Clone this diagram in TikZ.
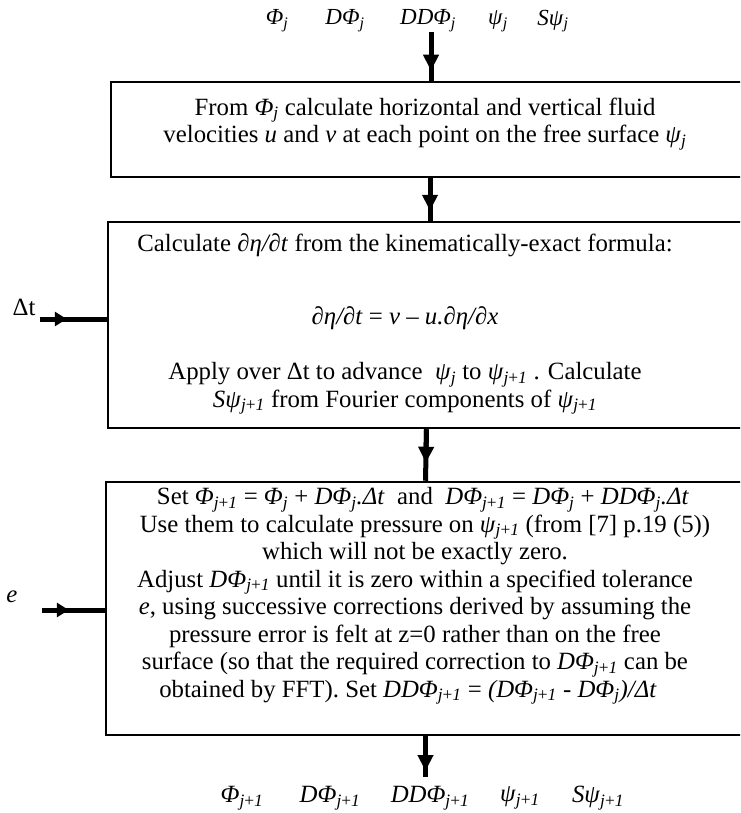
\documentclass[tikz,border=0pt]{standalone}
\usepackage{fontspec}
\setmainfont{Liberation Serif}
\usetikzlibrary{arrows.meta}
\newcommand\PHI{\textit{Φ}}
\newcommand\PSI{\textit{ψ}}
\newcommand\jj{\textsubscript{\textit{j}}}
\newcommand\jp{\textsubscript{\textit{j}+\textit{1}}}
\newcommand\fmid{\fontsize{23}{27.5}\selectfont}
\newcommand\fbig{\fontsize{24.8}{27.5}\selectfont}
\begin{document}
\begin{tikzpicture}[x=1pt,y=-1pt,
  font=\fbig,
  box/.style={draw, line width=2.5pt, inner sep=0pt},
  txt/.style={align=center, inner sep=0pt},
  lbl/.style={inner sep=0pt},
  shaft/.style={line width=5pt},
  head/.style={line width=5pt, -{Triangle[width=15pt,length=16pt]}},
  hhead/.style={line width=5pt, -{Triangle[width=14pt,length=12pt]}}]
\useasboundingbox (0,0) rectangle (740,813);
\clip (0,0) rectangle (740,813);
% boxes
\node[box, minimum width=634pt, minimum height=95pt] (b1) at (428,129.5) {};
\node[box, minimum width=637pt, minimum height=206pt] (b2) at (426.5,325) {};
\node[box, minimum width=639pt, minimum height=253pt] (b3) at (425.5,608.5) {};
% box texts
\node[txt] (t1) at (425,124) {From \PHI\jj\ calculate horizontal and vertical fluid\\
velocities \textit{u} and \textit{v} at each point on the free surface \PSI\jj};
\node[txt] (t2) at (405,324) {Calculate \textit{∂η/∂t} from the kinematically-exact formula:\\[46pt]
\textit{∂η/∂t} = \textit{v} – \textit{u.∂η/∂x}\\[27.5pt]
Apply over Δt to advance\ \ \PSI\jj\ to \PSI\jp\ . Calculate\\
\textit{S}\PSI\jp\ from Fourier components of \PSI\jp};
\node[txt] (t3) at (415,596) {\hspace*{16pt}Set \PHI\jp\ = \PHI\jj\ + \textit{D}\PHI\jj\textit{.Δt}\ \ and\ \ \textit{D}\PHI\jp\ = \textit{D}\PHI\jj\ + \textit{DD}\PHI\jj\textit{.Δt}\\
\hspace*{20pt}Use them to calculate pressure on \PSI\jp\ (from [7] p.19 (5))\\
which will not be exactly zero.\hspace*{36pt}\\
Adjust \textit{D}\PHI\jp\ until it is zero within a specified tolerance\\
\textit{e}, using successive corrections derived by assuming the\\
pressure error is felt at z=0 rather than on the free\hspace*{10pt}\\
surface (so that the required correction to \textit{D}\PHI\jp\ can be\\
obtained by FFT). Set \textit{DD}\PHI\jp\ = \textit{(D}\PHI\jp\ \textit{- D}\PHI\jj\textit{)/Δt}\hspace*{14pt}};
% top labels
\node[lbl, font=\fmid] (l1) at (277,21) {\PHI\jj};
\node[lbl, font=\fmid] (l2) at (345,21) {\textit{D}\PHI\jj};
\node[lbl, font=\fmid] (l3) at (428,21) {\textit{DD}\PHI\jj};
\node[lbl, font=\fmid] (l4) at (498,21) {\PSI\jj};
\node[lbl, font=\fmid] (l5) at (553,21) {\textit{S}\PSI\jj};
% bottom labels
\node[lbl] (m1) at (242,798) {\PHI\jp};
\node[lbl] (m2) at (330,798) {\textit{D}\PHI\jp};
\node[lbl] (m3) at (430,798) {\textit{DD}\PHI\jp};
\node[lbl] (m4) at (520,798) {\PSI\jp};
\node[lbl] (m5) at (598,798) {\textit{S}\PSI\jp};
% side labels
\node[lbl] (dt) at (24,307) {Δt};
\node[lbl] (e) at (12,597) {\textit{e}};
% connector points
\coordinate (a0) at (431,32);
\coordinate (a1) at (430,177);
\coordinate (a3) at (425.5,777);
\coordinate (dtin) at (40,319);
\coordinate (ein) at (42,610);
% connectors
\draw[shaft] (a0) -- (a0 |- b1.north);
\draw[head, shorten >=10pt] (a0) -- (a0 |- b1.north);
\draw[shaft] (a1) -- (a1 |- b2.north);
\draw[head, shorten >=10pt] (a1) -- (a1 |- b2.north);
\draw[shaft] (b2.south) -- (b3.north);
\draw[head, shorten >=18pt] (b2.south) -- (b3.north);
\draw[shaft] (b3.south) -- (a3);
\draw[head, shorten >=6pt] (b3.south) -- (a3);
\draw[shaft] (dtin) -- (dtin -| b2.west);
\draw[hhead, shorten >=40pt] (dtin) -- (dtin -| b2.west);
\draw[shaft] (ein) -- (ein -| b3.west);
\draw[hhead, shorten >=36pt] (ein) -- (ein -| b3.west);
\end{tikzpicture}
\end{document}
